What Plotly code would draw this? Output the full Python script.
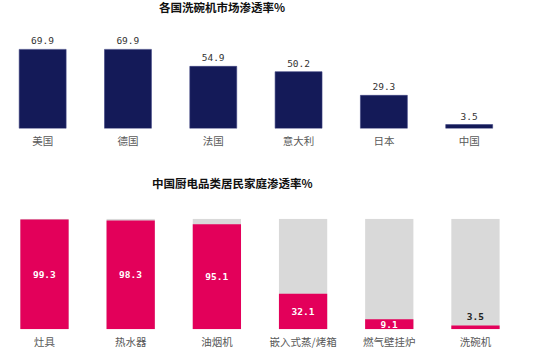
import plotly.graph_objects as go

countries = ["美国", "德国", "法国", "意大利", "日本", "中国"]
country_rates = [69.9, 69.9, 54.9, 50.2, 29.3, 3.5]

appliances = ["灶具", "热水器", "油烟机", "嵌入式蒸/烤箱", "燃气壁挂炉", "洗碗机"]
appliance_rates = [99.3, 98.3, 95.1, 32.1, 9.1, 3.5]
full_scale = [100, 100, 100, 100, 100, 100]

title_top = "各国洗碗机市场渗透率%"
title_bottom = "中国厨电品类居民家庭渗透率%"

NAVY = "#141a58"
PINK = "#e3005a"
GRAY = "#d9d9d9"
CJK = "Noto Sans CJK SC"
NUM = "DejaVu Sans Mono, Noto Sans CJK SC"

fig = go.Figure()

fig.add_trace(go.Bar(
    x=countries, y=country_rates, xaxis="x", yaxis="y",
    marker=dict(color=NAVY, line=dict(color="#3a4080", width=0.6)),
    width=0.55,
    text=[f"{v:.1f}" for v in country_rates], textposition="outside",
    textfont=dict(family=NUM, size=9.5, color="#333333"),
    cliponaxis=False, hoverinfo="skip",
))

fig.add_trace(go.Bar(
    x=appliances, y=full_scale, xaxis="x2", yaxis="y2",
    marker=dict(color=GRAY, line=dict(width=0)), width=0.56,
    hoverinfo="skip",
))
fig.add_trace(go.Bar(
    x=appliances, y=appliance_rates, xaxis="x2", yaxis="y2",
    marker=dict(color=PINK, line=dict(width=0)), width=0.56,
    text=[f"{v:.1f}" for v in appliance_rates],
    textposition=["inside"] * 5 + ["outside"],
    insidetextanchor="middle",
    insidetextfont=dict(family=NUM, size=9.5, color="white", weight="bold"),
    outsidetextfont=dict(family=NUM, size=9.5, color="#222222", weight="bold"),
    constraintext="none", cliponaxis=False, hoverinfo="skip",
))

fig.update_layout(
    width=560, height=358,
    margin=dict(l=0, r=0, t=0, b=0),
    paper_bgcolor="white", plot_bgcolor="white",
    barmode="overlay", showlegend=False,
    xaxis=dict(domain=[0, 0.914], anchor="y", showgrid=False, showline=False,
               ticks="outside", ticklen=3, tickcolor="white",
               tickfont=dict(family=CJK, size=10.5, color="#595959")),
    yaxis=dict(domain=[0.641, 0.894], range=[0, 80], anchor="x", visible=False),
    xaxis2=dict(domain=[0.0025, 0.926], anchor="y2", showgrid=False, showline=False,
                ticks="outside", ticklen=3, tickcolor="white",
                tickfont=dict(family=CJK, size=10.5, color="#595959")),
    yaxis2=dict(domain=[0.0802, 0.389], range=[0, 100], anchor="x2", visible=False),
    annotations=[
        dict(text=title_top, x=222 / 560, y=1 - 7.5 / 358, xref="paper", yref="paper",
             showarrow=False, xanchor="center", yanchor="middle",
             font=dict(family=CJK, size=11.5, color="#111111", weight="bold")),
        dict(text=title_bottom, x=232 / 560, y=1 - 183 / 358, xref="paper", yref="paper",
             showarrow=False, xanchor="center", yanchor="middle",
             font=dict(family=CJK, size=11.5, color="#111111", weight="bold")),
    ],
)

fig.write_html("out.html", config={"displayModeBar": False},
               post_script="document.body.style.margin='0px';")
